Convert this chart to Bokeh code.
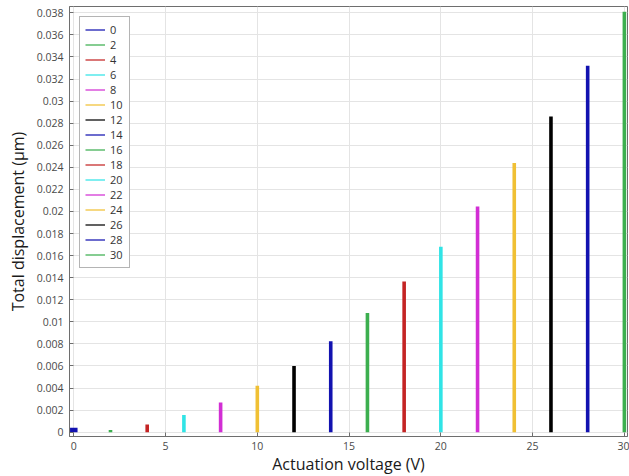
import math
from bokeh.plotting import figure
from bokeh.models import (Range1d, FixedTicker, CustomJSTickFormatter, Legend,
                          LegendItem, Title)
from bokeh.embed import file_html
from bokeh.resources import INLINE

# ---- data ----
voltages = [0, 2, 4, 6, 8, 10, 12, 14, 16, 18, 20, 22, 24, 26, 28, 30]
displacements = [0.0004, 0.0002, 0.0007, 0.00155, 0.0027, 0.0042, 0.0060,
                 0.00825, 0.0108, 0.01365, 0.0168, 0.02045, 0.0244, 0.0286,
                 0.0332, 0.0381]
series_labels = ["0", "2", "4", "6", "8", "10", "12", "14", "16", "18", "20",
                 "22", "24", "26", "28", "30"]
x_ticks = [0, 5, 10, 15, 20, 25, 30]
y_ticks = [0, 0.002, 0.004, 0.006, 0.008, 0.01, 0.012, 0.014, 0.016, 0.018,
           0.02, 0.022, 0.024, 0.026, 0.028, 0.03, 0.032, 0.034, 0.036, 0.038]

# ---- styles ----
palette = ["#1212b0", "#3caf4f", "#c42424", "#30e4e6", "#d22ed4", "#f0c034",
           "#000000"]
colors = [palette[i % len(palette)] for i in range(len(voltages))]
bar_widths = [7.5] + [3.6] * (len(voltages) - 1)

FONT = "Open Sans"
AXIS_COLOR = "#6e6e6e"

p = figure(frame_width=558, frame_height=430,
           x_range=Range1d(-0.234, 30.17), y_range=Range1d(-0.00039, 0.03857),
           output_backend="svg", toolbar_location=None,
           min_border_left=69, min_border_right=2, min_border_top=6,
           min_border_bottom=40, background_fill_color="white",
           border_fill_color="white")
p.outline_line_color = AXIS_COLOR

# bars as thick vertical segments
p.segment(x0=voltages, y0=[0] * len(voltages), x1=voltages, y1=displacements,
          line_color=colors, line_width=bar_widths, line_cap="butt")

# legend entries (thin lines, drawn only in the legend)
items = []
for lab, c in zip(series_labels, colors):
    r = p.line(x=[math.nan], y=[math.nan], line_color=c, line_width=2,
               line_alpha=0.62)
    items.append(LegendItem(label=lab, renderers=[r]))

legend = Legend(items=items, location="top_left", margin=10, padding=5,
                spacing=0, label_height=15, glyph_height=15, glyph_width=20,
                label_width=14, label_standoff=5,
                label_text_font=FONT, label_text_font_size="11px",
                label_text_color="#333333",
                border_line_color="#6a6a6a", border_line_width=1.2,
                background_fill_color="white", background_fill_alpha=1)
p.add_layout(legend)

# axes
fmt = CustomJSTickFormatter(code="return String(parseFloat(tick.toFixed(4)));")
for ax in p.xaxis:
    ax.ticker = FixedTicker(ticks=x_ticks)
for ax in p.yaxis:
    ax.ticker = FixedTicker(ticks=y_ticks)
    ax.formatter = fmt

for ax in p.xaxis + p.yaxis:
    ax.major_tick_in = 4
    ax.major_tick_out = 0
    ax.minor_tick_line_color = None
    ax.axis_line_color = AXIS_COLOR
    ax.major_tick_line_color = AXIS_COLOR
    ax.major_label_text_font = FONT
    ax.major_label_text_font_size = "10.5px"
    ax.major_label_text_color = "#4a4a4a"
    ax.major_label_standoff = 6

p.xaxis.axis_label = "Actuation voltage (V)"
p.xaxis.axis_label_text_font = FONT
p.xaxis.axis_label_text_font_size = "16px"
p.xaxis.axis_label_text_font_style = "normal"
p.xaxis.axis_label_text_color = "#1a1a1a"
p.xaxis.axis_label_standoff = 0
p.xaxis.major_label_standoff = 5

# y label as a left title so it can be shifted upwards like the reference
ytitle = Title(text="Total displacement (\u00b5m)", align="center", offset=11,
               text_font=FONT, text_font_size="16px", text_font_style="normal",
               text_color="#1a1a1a", standoff=9)
p.add_layout(ytitle, "left")

# grid
p.xgrid.ticker = FixedTicker(ticks=x_ticks)
p.ygrid.ticker = FixedTicker(ticks=y_ticks)
p.grid.grid_line_color = "#e4e4e4"
p.grid.grid_line_width = 1

open("out.html", "w").write(file_html(p, INLINE))
